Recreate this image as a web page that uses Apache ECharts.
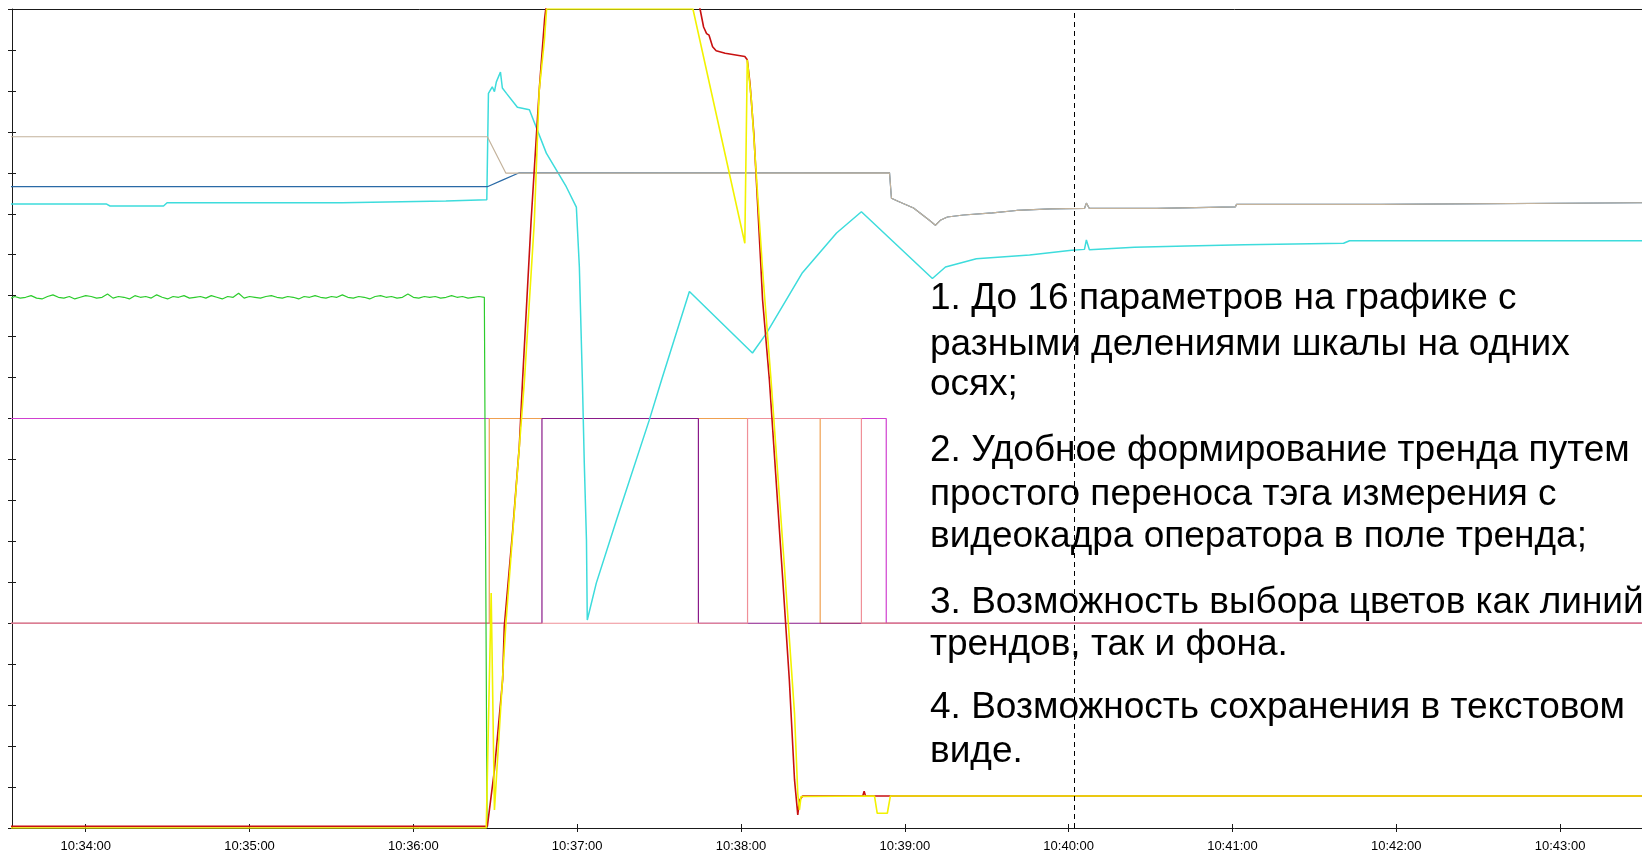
<!DOCTYPE html>
<html>
<head>
<meta charset="utf-8">
<script src="https://cdn.jsdelivr.net/npm/echarts@6/dist/echarts.min.js"></script>
<style>
html,body{margin:0;padding:0;background:#fff;}
#chart{width:1642px;height:858px;}
</style>
</head>
<body>
<div id="chart"></div>
<script>
// ---------- DATA ----------
const xStart = '10:33:33';
const xEnd = '10:43:30';
const tickLabels = ['10:34:00','10:35:00','10:36:00','10:37:00','10:38:00','10:39:00','10:40:00','10:41:00','10:42:00','10:43:00'];
const cursorTime = '10:40:02.2';

const greenTimes = [
 '10:33:32','10:33:34','10:33:36','10:33:38','10:33:40','10:33:42','10:33:44','10:33:46','10:33:48','10:33:50','10:33:52','10:33:54','10:33:56','10:33:58',
 '10:34:00','10:34:02','10:34:04','10:34:06','10:34:08','10:34:10','10:34:12','10:34:14','10:34:16','10:34:18','10:34:20','10:34:22','10:34:24','10:34:26','10:34:28','10:34:30',
 '10:34:32','10:34:34','10:34:36','10:34:38','10:34:40','10:34:42','10:34:44','10:34:46','10:34:48','10:34:50','10:34:52','10:34:54','10:34:56','10:34:58',
 '10:35:00','10:35:02','10:35:04','10:35:06','10:35:08','10:35:10','10:35:12','10:35:14','10:35:16','10:35:18','10:35:20','10:35:22','10:35:24','10:35:26','10:35:28','10:35:30',
 '10:35:32','10:35:34','10:35:36','10:35:38','10:35:40','10:35:42','10:35:44','10:35:46','10:35:48','10:35:50','10:35:52','10:35:54','10:35:56','10:35:58',
 '10:36:00','10:36:02','10:36:04','10:36:06','10:36:08','10:36:10','10:36:12','10:36:14','10:36:16','10:36:18','10:36:20','10:36:22','10:36:24','10:36:26',
 '10:36:26.6','10:36:27.0'
];
const greenValues = [
 64.6,64.9,64.7,64.8,65.0,64.7,64.6,64.9,65.1,64.8,
 64.7,64.9,64.6,64.8,65.0,64.9,64.7,64.8,65.2,64.7,
 64.9,64.8,64.6,65.0,64.8,64.9,64.7,65.1,64.8,64.6,
 64.9,64.8,65.0,64.7,64.8,64.9,64.7,65.0,64.8,64.6,
 64.9,64.8,65.3,64.7,64.9,64.8,64.7,64.9,65.0,64.8,
 64.7,64.9,64.8,64.6,64.9,64.8,65.0,64.8,64.7,64.9,
 64.8,65.1,64.8,64.7,64.9,64.8,64.6,64.9,65.0,64.8,
 64.9,64.7,64.8,65.2,64.8,64.7,64.9,64.8,64.9,64.7,
 64.8,65.0,64.8,64.9,64.7,64.8,64.9,64.8,
 64.8,0
];

const tanHead = [
 ['10:33:30',84.4],['10:36:27.1',84.4],['10:36:33.9',79.95],['10:38:54.4',80.0]
];
const darkBlueHead = [
 ['10:33:30',78.3],['10:36:27.1',78.3],['10:36:27.8',78.5],['10:36:32.6',79.1],['10:36:38.8',80.0],['10:38:54.4',80.0]
];
const sharedTail = [
 ['10:38:55.1',76.9],['10:38:57.7',76.5],['10:39:03.2',75.7],['10:39:09.0',74.2],['10:39:11.2',73.6],
 ['10:39:13.0',74.2],['10:39:15.6',74.6],['10:39:21.5',74.85],['10:39:32.1',75.1],['10:39:40.9',75.4],
 ['10:39:53.4',75.6],['10:40:05.8',75.65],['10:40:06.5',76.3],['10:40:07.6',75.65],['10:40:32.2',75.65],
 ['10:40:32.6',75.85],['10:41:01.1',75.85],['10:41:01.5',76.15],['10:41:54.0',76.15],['10:41:54.3',76.3],['10:43:35',76.35]
];

const cyan = [
 ['10:33:30',76.2],['10:34:07.5',76.2],['10:34:08.9',75.95],['10:34:28.5',75.95],['10:34:29.8',76.35],
 ['10:35:33.9',76.35],['10:35:34.6',76.55],['10:36:11.9',76.55],['10:36:12.5',76.7],['10:36:26.9',76.7],
 ['10:36:27.5',89.7],['10:36:28.9',90.5],['10:36:29.7',89.9],['10:36:30.4',91.1],['10:36:31.9',92.3],
 ['10:36:32.6',90.35],['10:36:34.1',89.7],['10:36:38.1',88.0],['10:36:42.5',87.7],['10:36:48.7',82.4],
 ['10:36:56.0',78.3],['10:36:59.7',75.8],['10:37:00.8',68.5],['10:37:01.9',54.7],['10:37:02.6',44.6],
 ['10:37:03.4',35.2],['10:37:03.7',25.4],['10:37:07.0',29.9],['10:37:14.4',37.6],['10:37:26.4',49.8],
 ['10:37:30.9',54.7],['10:37:41.1',65.5],['10:38:04.2',58.0],['10:38:09.3',60.4],['10:38:22.5',67.8],
 ['10:38:35.0',72.65],['10:38:44.1',75.25],['10:39:10.1',67.1],['10:39:14.9',68.5],['10:39:26.2',69.5],
 ['10:39:45.7',69.95],['10:40:01.1',70.55],['10:40:05.8',70.65],['10:40:06.5',71.8],['10:40:07.6',70.6],
 ['10:40:24.1',70.9],['10:40:43.2',71.05],['10:41:04.4',71.2],['10:41:40.7',71.4],['10:41:42.9',71.7],['10:43:35',71.7]
];

const red = [
 ['10:33:30',0.2],['10:36:27.1',0.2],['10:36:29.7',7.1],['10:36:32.7',18.1],['10:36:33.3',24.6],
 ['10:36:36.4',36.4],['10:36:38.8',46.6],['10:36:40.0',54.7],['10:36:43.1',74.0],['10:36:46.1',90.1],
 ['10:36:48.1',98.9],['10:36:50',104],['10:37:15',112],['10:37:42',104],['10:37:45.0',100],
 ['10:37:46.3',97.8],['10:37:47.4',97.0],['10:37:48.3',96.8],['10:37:49.6',95.4],['10:37:50.9',94.9],
 ['10:37:54.2',94.6],['10:38:01.4',94.2],['10:38:02.3',93.8],['10:38:03.3',90.9],['10:38:04.7',84.8],
 ['10:38:06.0',76.7],['10:38:07.3',68.5],['10:38:07.9',64.5],['10:38:10.4',54.7],['10:38:15.3',30.3],
 ['10:38:17.7',18.1],['10:38:19.6',5.9],['10:38:20.8',1.6],['10:38:21.4',3.4],['10:38:22.6',3.9],
 ['10:38:44.6',3.9],['10:38:45.1',4.5],['10:38:45.6',3.9],['10:43:35',3.9]
];

const yellow = [
 ['10:33:30',0],['10:36:26.7',0],['10:36:28.5',28.7],['10:36:29.7',2.2],['10:36:33.9',25.0],
 ['10:36:37.6',41.3],['10:36:40.7',54.7],['10:36:44.3',74.0],['10:36:46.1',90.1],['10:36:48.0',96.2],
 ['10:36:48.8',100],['10:37:42.4',100],['10:38:01.4',71.4],['10:38:02.3',93.8],['10:38:03.8',88.9],
 ['10:38:08.0',67.7],['10:38:11.0',54.7],['10:38:15.9',31.9],['10:38:19.6',14.0],['10:38:20.8',4.2],
 ['10:38:21.4',2.2],['10:38:22.0',3.85],['10:38:48.9',3.9],['10:38:49.9',1.8],['10:38:53.6',1.8],
 ['10:38:54.7',3.9],['10:43:35',3.9]
];

const magentaSignal = [['10:33:30',50],['10:38:53.2',25],['10:43:35',25]];
const orangeSignal  = [['10:33:30',25],['10:36:27.8',50],['10:38:29.0',25],['10:43:35',25]];
const purpleSignal  = [['10:33:30',25],['10:36:47.1',50],['10:37:44.4',25],['10:43:35',25]];
const pinkSignal    = [['10:33:30',25],['10:38:02.4',50],['10:38:44.1',25],['10:43:35',25]];

const noteLines = [
 '1. До 16 параметров на графике с',
 'разными делениями шкалы на одних',
 'осях;',
 '2. Удобное формирование тренда путем',
 'простого переноса тэга измерения с',
 'видеокадра оператора в поле тренда;',
 '3. Возможность выбора цветов как линий',
 'трендов, так и фона.',
 '4. Возможность сохранения в текстовом',
 'виде.'
];

// ---------- HELPERS ----------
function toSec(s){ const p = s.split(':'); return (+p[0])*3600 + (+p[1])*60 + parseFloat(p[2]); }
function pts(arr){ return arr.map(d => [toSec(d[0]), d[1]]); }
const tickVals = tickLabels.map(toSec);
function fmt(v){ const i = tickVals.findIndex(t => Math.abs(t - v) < 0.5); return i >= 0 ? tickLabels[i] : ''; }

const greenData = greenTimes.map((t, i) => [toSec(t), greenValues[i]]);

const lineY = [299, 345, 385, 451, 495, 537, 603, 645, 708, 752];
const graphics = noteLines.map((txt, i) => ({
  type: 'text', x: 930, y: lineY[i], z: 100,
  style: { text: txt, fill: '#000', font: '37px "Liberation Sans", Arial, sans-serif', verticalAlign: 'middle', align: 'left' }
}));

function lineSeries(name, data, color, width, extra){
  return Object.assign({
    name, type: 'line', data, showSymbol: false, symbol: 'none', animation: false,
    lineStyle: { color, width }, itemStyle: { color }, clip: true, silent: true
  }, extra || {});
}

const axisColor = '#1a1a1a';
const option = {
  animation: false,
  backgroundColor: '#ffffff',
  grid: { left: 12, right: 0, top: 9, bottom: 30, containLabel: false },
  xAxis: [
    { type: 'value', min: toSec(xStart), max: toSec(xEnd), position: 'bottom',
      axisLine: { show: true, onZero: false, lineStyle: { color: axisColor, width: 1 } },
      axisTick: { show: true, length: 4, customValues: tickVals, lineStyle: { color: axisColor } },
      axisLabel: { show: true, customValues: tickVals, formatter: fmt, color: '#000', fontSize: 13,
                   fontFamily: '"Liberation Sans", Arial, sans-serif', margin: 12 },
      splitLine: { show: false } },
    { type: 'value', min: toSec(xStart), max: toSec(xEnd), position: 'bottom',
      axisLine: { show: false },
      axisTick: { show: true, inside: true, length: 4, customValues: tickVals, lineStyle: { color: axisColor } },
      axisLabel: { show: false }, splitLine: { show: false } },
    { type: 'value', min: toSec(xStart), max: toSec(xEnd), position: 'top',
      axisLine: { show: true, onZero: false, lineStyle: { color: axisColor, width: 1 } },
      axisTick: { show: false }, axisLabel: { show: false }, splitLine: { show: false } }
  ],
  yAxis: [
    { type: 'value', min: 0, max: 100, interval: 5, position: 'left',
      axisLine: { show: true, onZero: false, lineStyle: { color: axisColor, width: 1 } },
      axisTick: { show: true, length: 4, lineStyle: { color: axisColor } },
      axisLabel: { show: false }, splitLine: { show: false } },
    { type: 'value', min: 0, max: 100, interval: 5, position: 'left',
      axisLine: { show: false },
      axisTick: { show: true, inside: true, length: 4, lineStyle: { color: axisColor } },
      axisLabel: { show: false }, splitLine: { show: false } }
  ],
  graphic: graphics,
  series: [
    lineSeries('magenta', pts(magentaSignal), '#d040d0', 1.2, { step: 'end' }),
    lineSeries('orange', pts(orangeSignal), '#f0a050', 1.2, { step: 'end' }),
    lineSeries('purple', pts(purpleSignal), '#8a1a8a', 1.2, { step: 'end' }),
    lineSeries('pink', pts(pinkSignal), '#f09098', 1.2, { step: 'end' }),
    lineSeries('green', greenData, '#2ccc2c', 1.2),
    lineSeries('cyan', pts(cyan), '#3ddcdc', 1.5),
    lineSeries('darkblue', pts(darkBlueHead.concat(sharedTail)), '#2a6aa6', 1.2),
    lineSeries('tan', pts(tanHead.concat(sharedTail)), '#c4b39c', 1.2),
    lineSeries('red', pts(red), '#c81010', 1.6),
    lineSeries('yellow', pts(yellow), '#f2f200', 1.6, {
      markLine: { silent: true, symbol: 'none', animation: false, label: { show: false },
        lineStyle: { color: '#000', type: [5, 4], width: 1 },
        data: [{ xAxis: toSec(cursorTime) }] }
    })
  ]
};

const chart = echarts.init(document.getElementById('chart'), null, { renderer: 'canvas' });
chart.setOption(option);
</script>
</body>
</html>
